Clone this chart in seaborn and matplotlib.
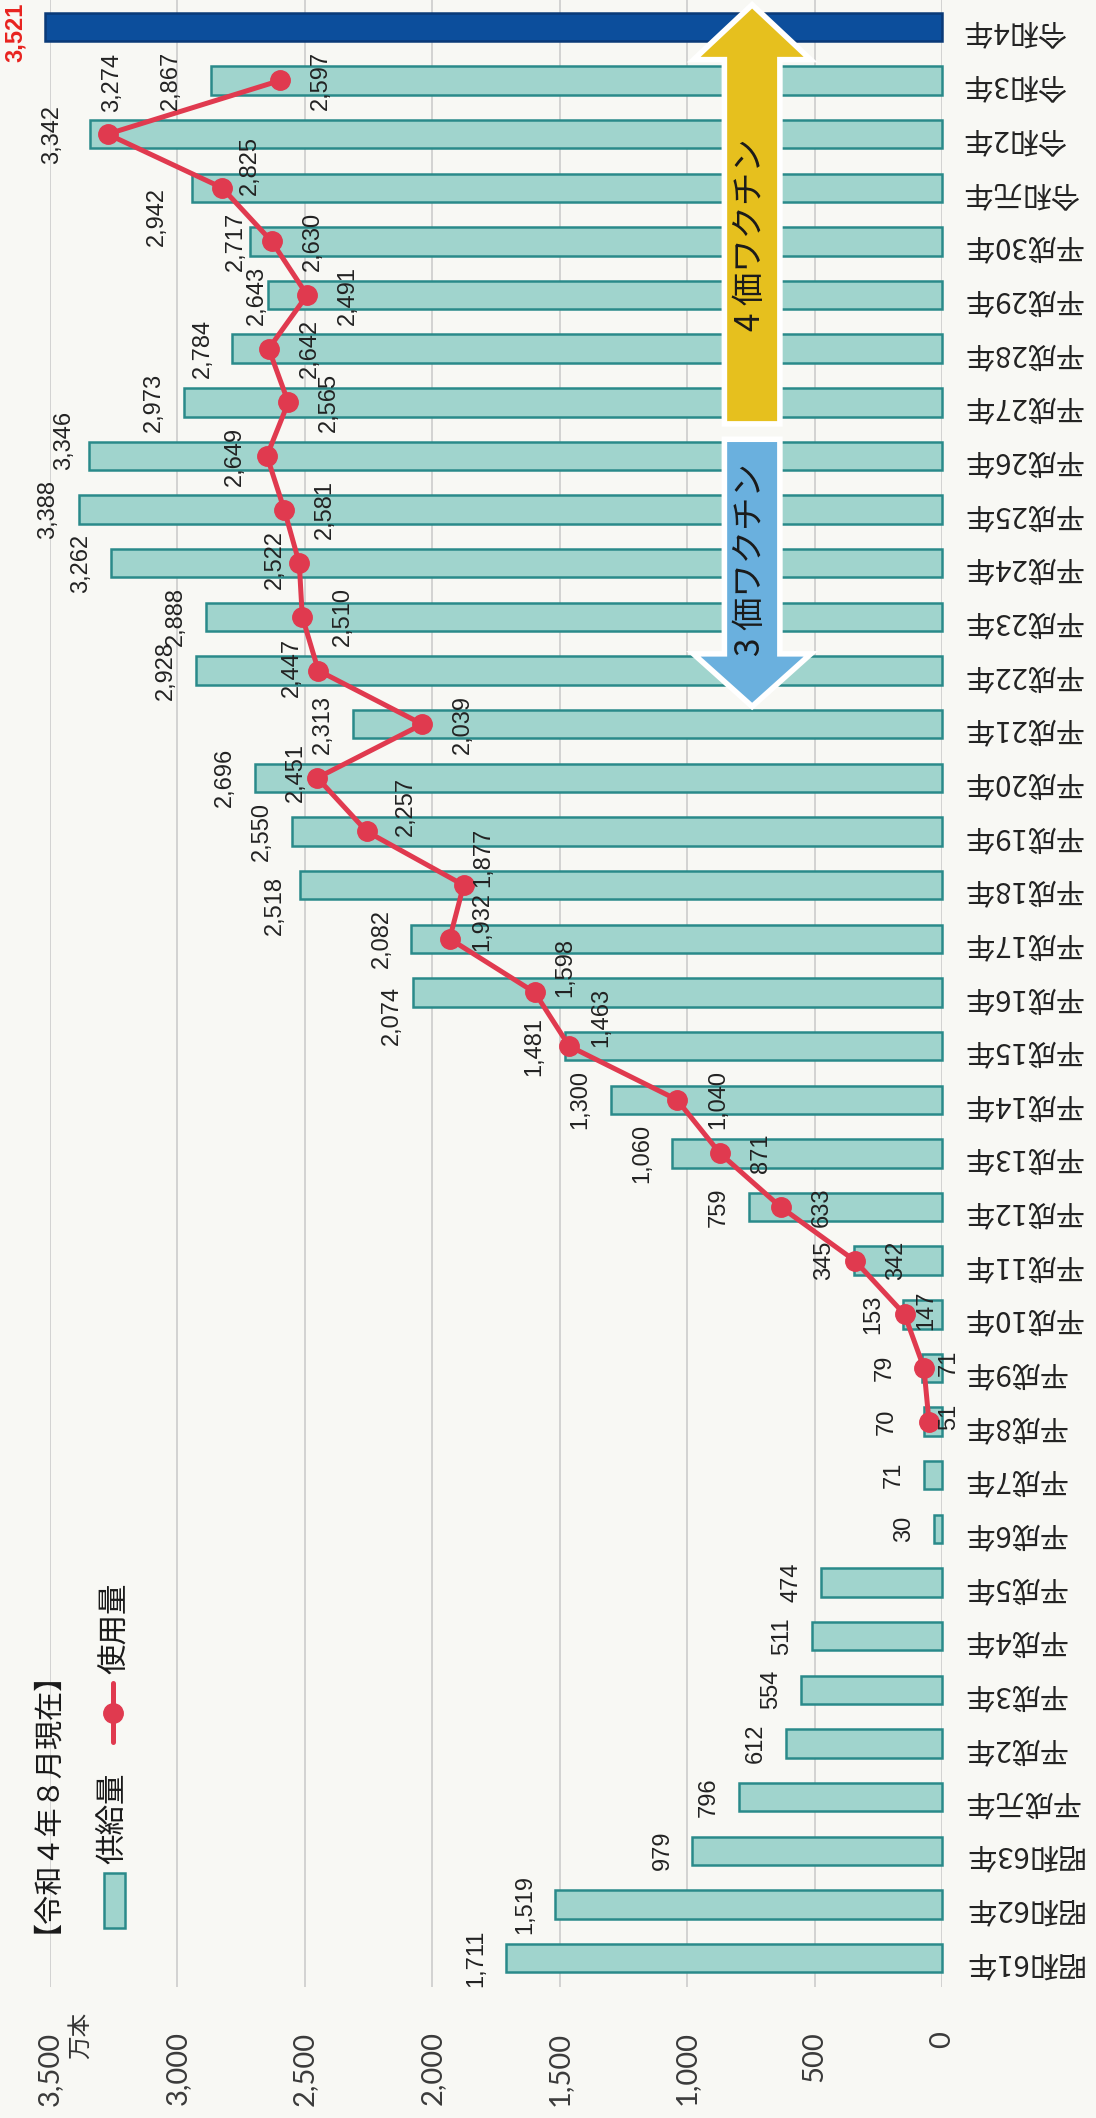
import pandas as pd
import seaborn as sns
import matplotlib.pyplot as plt
from matplotlib.patches import FancyArrow, Rectangle
from matplotlib.lines import Line2D

# data (万本)
years = ['昭和61年', '昭和62年', '昭和63年', '平成元年', '平成2年', '平成3年', '平成4年',
         '平成5年', '平成6年', '平成7年', '平成8年', '平成9年', '平成10年', '平成11年',
         '平成12年', '平成13年', '平成14年', '平成15年', '平成16年', '平成17年', '平成18年',
         '平成19年', '平成20年', '平成21年', '平成22年', '平成23年', '平成24年', '平成25年',
         '平成26年', '平成27年', '平成28年', '平成29年', '平成30年', '令和元年', '令和2年',
         '令和3年', '令和4年']
supply = [1711, 1519, 979, 796, 612, 554, 511, 474, 30, 71, 70, 79, 153, 345, 759, 1060,
          1300, 1481, 2074, 2082, 2518, 2550, 2696, 2313, 2928, 2888, 3262, 3388, 3346,
          2973, 2784, 2643, 2717, 2942, 3342, 2867, 3521]
usage_years = years[10:36]
usage = [51, 71, 147, 342, 633, 871, 1040, 1463, 1598, 1932, 1877, 2257, 2451, 2039,
         2447, 2510, 2522, 2581, 2649, 2565, 2642, 2491, 2630, 2825, 3274, 2597]
ticks = [0, 500, 1000, 1500, 2000, 2500, 3000, 3500]

# label nudges in pixels (dx right, dy up)
supply_nudge = {'令和元年': (-35, -29), '平成18年': (-25, -20), '平成16年': (-22, -23),
                '平成26年': (-25, 16), '平成29年': (-12, 0), '平成30年': (-14, 0),
                '令和3年': (-40, 0), '令和2年': (-38, 0), '平成8年': (-37, 0),
                '平成9年': (-37, 0), '令和4年': (-29, -5)}
usage_nudge = {'令和2年': (4, 52), '令和元年': (28, 22), '平成26年': (-32, 0),
               '平成24年': (-24, 4), '平成22年': (-26, 3), '平成20年': (-21, 5),
               '平成19年': (39, 25), '平成18年': (20, 28), '平成17年': (33, 17),
               '平成16年': (31, 25), '平成15年': (32, 29), '平成10年': (22, 4),
               '平成9年': (25, 5), '平成8年': (20, 5)}

sns.set_theme(style='white')
plt.rcParams['font.family'] = ['Noto Sans CJK JP', 'DejaVu Sans']

BG = '#f8f8f4'
TEAL = '#a0d4cd'
TEAL_EDGE = '#2a8a8a'
NAVY = '#0c4e9c'
RED = '#e03a4f'
YELLOW = '#e6c01e'
BLUE = '#6ab0de'
NUMFONT = ['Liberation Sans', 'DejaVu Sans']

W, H = 1096, 2118
fig = plt.figure(figsize=(W / 100, H / 100), dpi=100, facecolor=BG)
ax = fig.add_axes([50 / W, 1 - 1987 / H, 892 / W, 1987 / H])
ax.set_facecolor(BG)

order = years[::-1]
df = pd.DataFrame({'year': years, 'supply': supply})
palette = {y: (NAVY if y == '令和4年' else TEAL) for y in years}
sns.barplot(data=df, x='supply', y='year', hue='year', order=order, hue_order=order,
            palette=palette, legend=False, width=0.53, edgecolor=TEAL_EDGE,
            linewidth=1.8, saturation=1, errorbar=None, orient='h', ax=ax, zorder=2)
for p in ax.patches:
    p.set_clip_on(False)
    if p.get_width() > 3500:
        p.set_edgecolor('#0a3a78')

pos = {y: i for i, y in enumerate(order)}
uy = [pos[y] for y in usage_years]
ax.plot(usage, uy, color=RED, lw=3.6, marker='o', ms=14, mfc=RED, mec=RED,
        zorder=5, solid_joinstyle='round')

ax.set_xlim(3500, 0)
ax.set_ylim(36.54, -0.5)
ax.set_xlabel('')
ax.set_ylabel('')
ax.set_xticks(ticks)
ax.set_xticklabels([f'{t:,}' for t in ticks], rotation=90)
for lab in ax.get_xticklabels():
    lab.set_fontfamily(['Lato', 'DejaVu Sans'])
    lab.set_fontsize(21)
    lab.set_color('#3a3a3a')
ax.tick_params(axis='x', length=0, pad=32)
ax.xaxis.grid(True, color='#cccccc', lw=1.2)
ax.yaxis.grid(False)
ax.set_axisbelow(True)
ax.yaxis.tick_right()
ax.tick_params(axis='y', length=0, pad=15, labelrotation=180, labelsize=21,
               labelcolor='#222222')
for s in ax.spines.values():
    s.set_visible(False)

# value labels
k = 0.72  # px -> pt
for i, (y, v) in enumerate(zip(years, supply)):
    dx, dy = supply_nudge.get(y, (-30, 0))
    last = y == '令和4年'
    ax.annotate(f'{v:,}', xy=(v, pos[y]), xytext=(dx * k, dy * k), textcoords='offset points',
                rotation=90, ha='center', va='center', fontsize=17,
                fontfamily=NUMFONT, color='#e8231f' if last else '#222222',
                fontweight='bold' if last else 'normal', zorder=6,
                annotation_clip=False)
for y, v in zip(usage_years, usage):
    dx, dy = usage_nudge.get(y, (41, 0))
    ax.annotate(f'{v:,}', xy=(v, pos[y]), xytext=(dx * k, dy * k), textcoords='offset points',
                rotation=90, ha='center', va='center', fontsize=17, fontfamily=NUMFONT,
                color='#222222', zorder=6, annotation_clip=False)

# vaccine arrows
for tail, dy, hl, col in [(7.35, -7.69, 0.9, YELLOW), (7.74, 4.86, 0.86, BLUE)]:
    ax.add_patch(FancyArrow(745, tail, 0, dy, width=196, head_width=404, head_length=hl,
                            length_includes_head=True, fc='white', ec='white', lw=8,
                            zorder=3))
    ax.add_patch(FancyArrow(745, tail, 0, dy, width=196, head_width=404, head_length=hl,
                            length_includes_head=True, fc=col, ec='none', lw=0,
                            zorder=3.1))
ax.text(753, 3.88, '4 価ワクチン', rotation=90, ha='center', va='center', fontsize=24,
        color='#1a1a1a', zorder=4)
ax.text(753, 9.94, '3 価ワクチン', rotation=90, ha='center', va='center', fontsize=24,
        color='#1a1a1a', zorder=4)

# legend / notes
def fx(x):
    return x / W


def fy(y):
    return 1 - y / H


fig.text(fx(32), fy(1787), '【令和４年８月現在】', rotation=90, ha='center', va='center',
         fontsize=21, color='#1a1a1a')
fig.add_artist(Rectangle((fx(104), fy(1928)), 21 / W, 55 / H, transform=fig.transFigure,
                         fc=TEAL, ec=TEAL_EDGE, lw=1.8))
fig.text(fx(113), fy(1818), '供給量', rotation=90, ha='center', va='center', fontsize=22,
         color='#1a1a1a')
fig.add_artist(Line2D([fx(113), fx(113)], [fy(1683), fy(1742)], transform=fig.transFigure,
                      color=RED, lw=3.6))
fig.add_artist(Line2D([fx(113)], [fy(1713)], transform=fig.transFigure, color=RED,
                      marker='o', ms=14, lw=0))
fig.text(fx(115), fy(1628), '使用量', rotation=90, ha='center', va='center', fontsize=22,
         color='#1a1a1a')
fig.text(fx(80), fy(2035), '万本', rotation=90, ha='center', va='center', fontsize=17,
         color='#333333')

fig.savefig('out.png', dpi=100, facecolor=BG)
